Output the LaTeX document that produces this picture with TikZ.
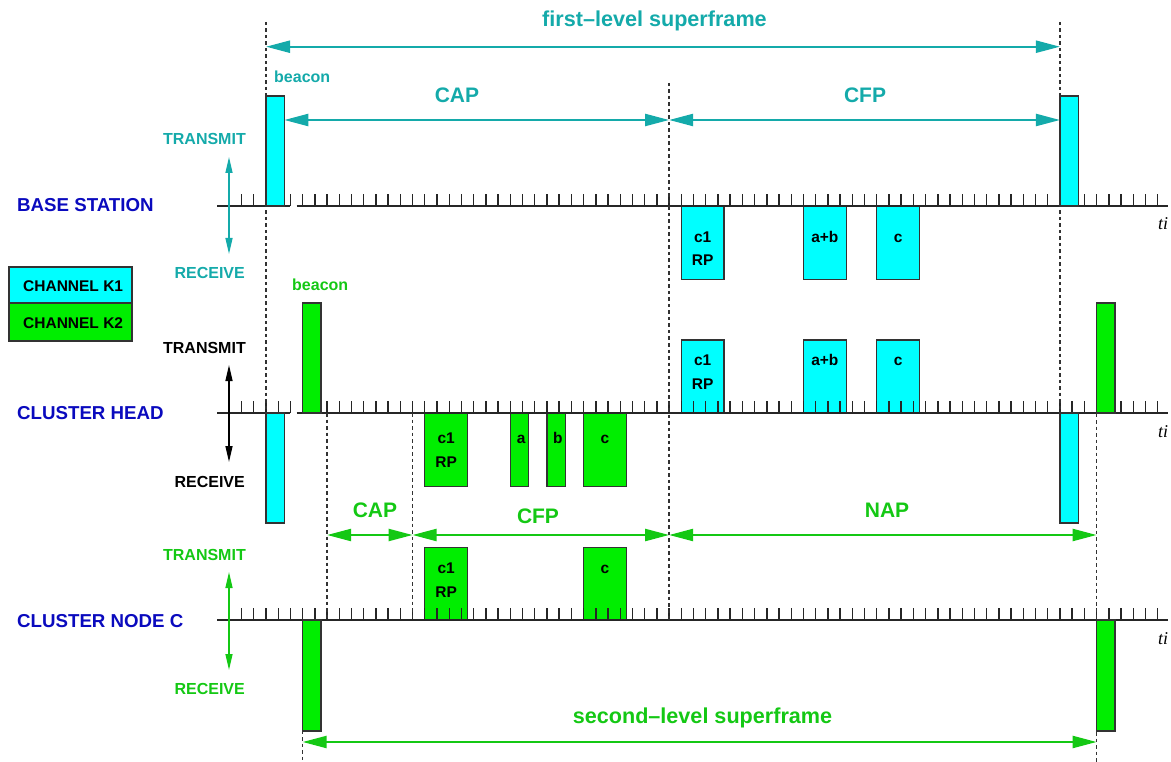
\documentclass[tikz,border=0pt]{standalone}
\usepackage{fontspec}
\setmainfont{Liberation Sans}
\newfontfamily\serifit{Liberation Serif}
\usetikzlibrary{arrows.meta}
\definecolor{tealc}{RGB}{20,170,170}
\definecolor{grn}{RGB}{20,200,20}
\definecolor{blu}{RGB}{10,10,190}
\definecolor{cyanf}{RGB}{0,255,255}
\definecolor{greenf}{RGB}{0,238,0}
\definecolor{dashc}{RGB}{50,50,50}
\newcommand\tk[1]{{266+12.215*(#1)}}
\begin{document}
\begin{tikzpicture}[x=1pt,y=-1pt,
  every node/.style={inner sep=0pt},
  fL/.style={font=\fontsize{21.6}{22}\selectfont\bfseries},
  fP/.style={font=\fontsize{21}{22}\selectfont\bfseries},
  fM/.style={font=\fontsize{16}{16}\selectfont\bfseries},
  fN/.style={font=\fontsize{18.7}{19}\selectfont\bfseries},
  fS/.style={font=\fontsize{15.5}{16}\selectfont\bfseries},
  ftime/.style={font=\fontsize{18}{18}\selectfont\serifit\itshape},
  axln/.style={line width=1.6pt, draw=black!85},
  tickln/.style={line width=1.4pt, draw=black!85},
  dashln/.style={line width=1.5pt, draw=dashc, dash pattern=on 3.5pt off 3pt},
  cbox/.style={fill=cyanf, draw=black!80, line width=1.2pt},
  gbox/.style={fill=greenf, draw=black!80, line width=1.2pt},
  bigarr/.style={{Triangle[length=24pt,width=12pt]}-{Triangle[length=24pt,width=12pt]}, line width=2.2pt},
  smarr/.style={{Triangle[length=16pt,width=7pt]}-{Triangle[length=16pt,width=7pt]}, line width=1.4pt}]
\useasboundingbox (0,0) rectangle (1171,762);

% ---------- data boxes (ticks drawn over them)
% base station, receive side
\draw[cbox] (\tk{34},206) rectangle (\tk{37.5},279.3);
\draw[cbox] (\tk{44},206) rectangle (\tk{47.5},279.3);
\draw[cbox] (\tk{50},206) rectangle (\tk{53.5},279.3);
% cluster head, transmit side (cyan)
\draw[cbox] (\tk{34},340) rectangle (\tk{37.5},413);
\draw[cbox] (\tk{44},340) rectangle (\tk{47.5},413);
\draw[cbox] (\tk{50},340) rectangle (\tk{53.5},413);
% cluster head, receive side (green)
\draw[gbox] (\tk{13},413) rectangle (\tk{16.5},486.7);
\draw[gbox] (\tk{20},413) rectangle (\tk{21.5},486.7);
\draw[gbox] (\tk{23},413) rectangle (\tk{24.5},486.7);
\draw[gbox] (\tk{26},413) rectangle (\tk{29.5},486.7);
% cluster node, transmit side
\draw[gbox] (\tk{13},547.5) rectangle (\tk{16.5},620);
\draw[gbox] (\tk{26},547.5) rectangle (\tk{29.5},620);

% ---------- time axes with ticks
\draw[axln] (\tk{-4},206) -- (\tk{2},206);
\draw[axln] (\tk{2.5},206) -- (1168,206);
\draw[axln] (\tk{-4},413) -- (\tk{2},413);
\draw[axln] (\tk{2.5},413) -- (1168,413);
\draw[axln] (\tk{-4},620) -- (1168,620);
\foreach \yy in {206,413,620}{
  \foreach \i in {-2,...,73}{
    \draw[tickln] (\tk{\i},\yy) -- ++(0,-12);
  }
}

% ---------- dashed guide lines
\draw[dashln] (\tk{0},22) -- (\tk{0},523);
\draw[dashln] (\tk{33},83) -- (\tk{33},620);
\draw[dashln] (\tk{65},22) -- (\tk{65},523);
\draw[dashln] (\tk{5},413) -- (\tk{5},620);
\draw[dashln] (\tk{12},413) -- (\tk{12},620);
\draw[dashln] (\tk{68},303) -- (\tk{68},762);
\draw[dashln] (\tk{3},620) -- (\tk{3},762);

% ---------- beacons
\draw[cbox] (\tk{0},96) rectangle (\tk{1.5},206);
\draw[cbox] (\tk{65},96) rectangle (\tk{66.5},206);
\draw[gbox] (\tk{3},303) rectangle (\tk{4.5},413);
\draw[gbox] (\tk{68},303) rectangle (\tk{69.5},413);
\draw[cbox] (\tk{0},413) rectangle (\tk{1.5},523);
\draw[cbox] (\tk{65},413) rectangle (\tk{66.5},523);
\draw[gbox] (\tk{3},620) rectangle (\tk{4.5},731);
\draw[gbox] (\tk{68},620) rectangle (\tk{69.5},731);

% ---------- legend
\draw[cbox] (9,267) rectangle (132,303);
\draw[gbox] (9,303) rectangle (132,341);
\node[fS, anchor=base west] (k1) at (23,292) {CHANNEL K1};
\node[fS, anchor=base west] (k2) at (23,328) {CHANNEL K2};

% ---------- period arrows
\coordinate (fa) at (\tk{0},46.7);
\coordinate (fb) at (\tk{65},46.7);
\coordinate (ca) at (\tk{1.5},120);
\coordinate (cb) at (\tk{33},120);
\coordinate (cc) at (\tk{65},120);
\coordinate (ga) at (\tk{5},535);
\coordinate (gb) at (\tk{12},535);
\coordinate (gc) at (\tk{33},535);
\coordinate (gd) at (\tk{68},535);
\coordinate (sa) at (\tk{3},742);
\coordinate (sb) at (\tk{68},742);
\draw[bigarr, tealc] (fa) -- (fb);
\draw[bigarr, tealc] (ca) -- (cb);
\draw[bigarr, tealc] (cb) -- (cc);
\draw[bigarr, grn] (ga) -- (gb);
\draw[bigarr, grn] (gb) -- (gc);
\draw[bigarr, grn] (gc) -- (gd);
\draw[bigarr, grn] (sa) -- (sb);

\node[fL, tealc, anchor=base] (t1) at (654.5,27) {first–level superframe};
\node[fL, grn, anchor=base] (t2) at (702.5,723) {second–level superframe};
\node[fP, tealc, anchor=base] (cap1) at (457,103) {CAP};
\node[fP, tealc, anchor=base] (cfp1) at (865,103) {CFP};
\node[fP, grn, anchor=base] (cap2) at (375,517) {CAP};
\node[fP, grn, anchor=base] (cfp2) at (538,523) {CFP};
\node[fP, grn, anchor=base] (nap) at (887,517) {NAP};
\node[fM, tealc, anchor=base west] (bc1) at (274,83) {beacon};
\node[fM, grn, anchor=base west] (bc2) at (292,291) {beacon};

% ---------- station labels and tx/rx arrows
\node[fN, blu, anchor=base west] (bs) at (17,212) {BASE STATION};
\node[fN, blu, anchor=base west] (ch) at (17,419) {CLUSTER HEAD};
\node[fN, blu, anchor=base west] (cn) at (17,627) {CLUSTER NODE C};

\node[fM, tealc, anchor=base east] (tx1) at (246,145) {TRANSMIT};
\node[fM, tealc, anchor=base east] (rx1) at (245,279) {RECEIVE};
\node[fM, black, anchor=base east] (tx2) at (246,353) {TRANSMIT};
\node[fM, black, anchor=base east] (rx2) at (245,487) {RECEIVE};
\node[fM, grn, anchor=base east] (tx3) at (246,560) {TRANSMIT};
\node[fM, grn, anchor=base east] (rx3) at (245,694) {RECEIVE};
\coordinate (a1t) at (229,157); \coordinate (a1b) at (229,254);
\coordinate (a2t) at (229,365); \coordinate (a2b) at (229,462);
\coordinate (a3t) at (229,572); \coordinate (a3b) at (229,670);
\draw[smarr, tealc] (a1t) -- (a1b);
\draw[smarr, black] (a2t) -- (a2b);
\draw[smarr, grn] (a3t) -- (a3b);

% ---------- time labels
\node[ftime, anchor=base west] (ti1) at (1158,230) {ti};
\node[ftime, anchor=base west] (ti2) at (1158,437) {ti};
\node[ftime, anchor=base west] (ti3) at (1158,644) {ti};

% ---------- box labels
\node[fS, anchor=base] (l1) at (\tk{35.75},243) {c1};
\node[fS, anchor=base] (l2) at (\tk{35.75},266) {RP};
\node[fS, anchor=base] (l3) at (\tk{45.75},243) {a+b};
\node[fS, anchor=base] (l4) at (\tk{51.75},243) {c};
\node[fS, anchor=base] (l5) at (\tk{35.75},365) {c1};
\node[fS, anchor=base] (l6) at (\tk{35.75},389) {RP};
\node[fS, anchor=base] (l7) at (\tk{45.75},365) {a+b};
\node[fS, anchor=base] (l8) at (\tk{51.75},365) {c};
\node[fS, anchor=base] (l9) at (\tk{14.75},443) {c1};
\node[fS, anchor=base] (l10) at (\tk{14.75},467) {RP};
\node[fS, anchor=base] (l11) at (\tk{20.9},443) {a};
\node[fS, anchor=base] (l12) at (\tk{23.9},443) {b};
\node[fS, anchor=base] (l13) at (\tk{27.75},443) {c};
\node[fS, anchor=base] (l14) at (\tk{14.75},573) {c1};
\node[fS, anchor=base] (l15) at (\tk{14.75},597) {RP};
\node[fS, anchor=base] (l16) at (\tk{27.75},573) {c};
\end{tikzpicture}
\end{document}
